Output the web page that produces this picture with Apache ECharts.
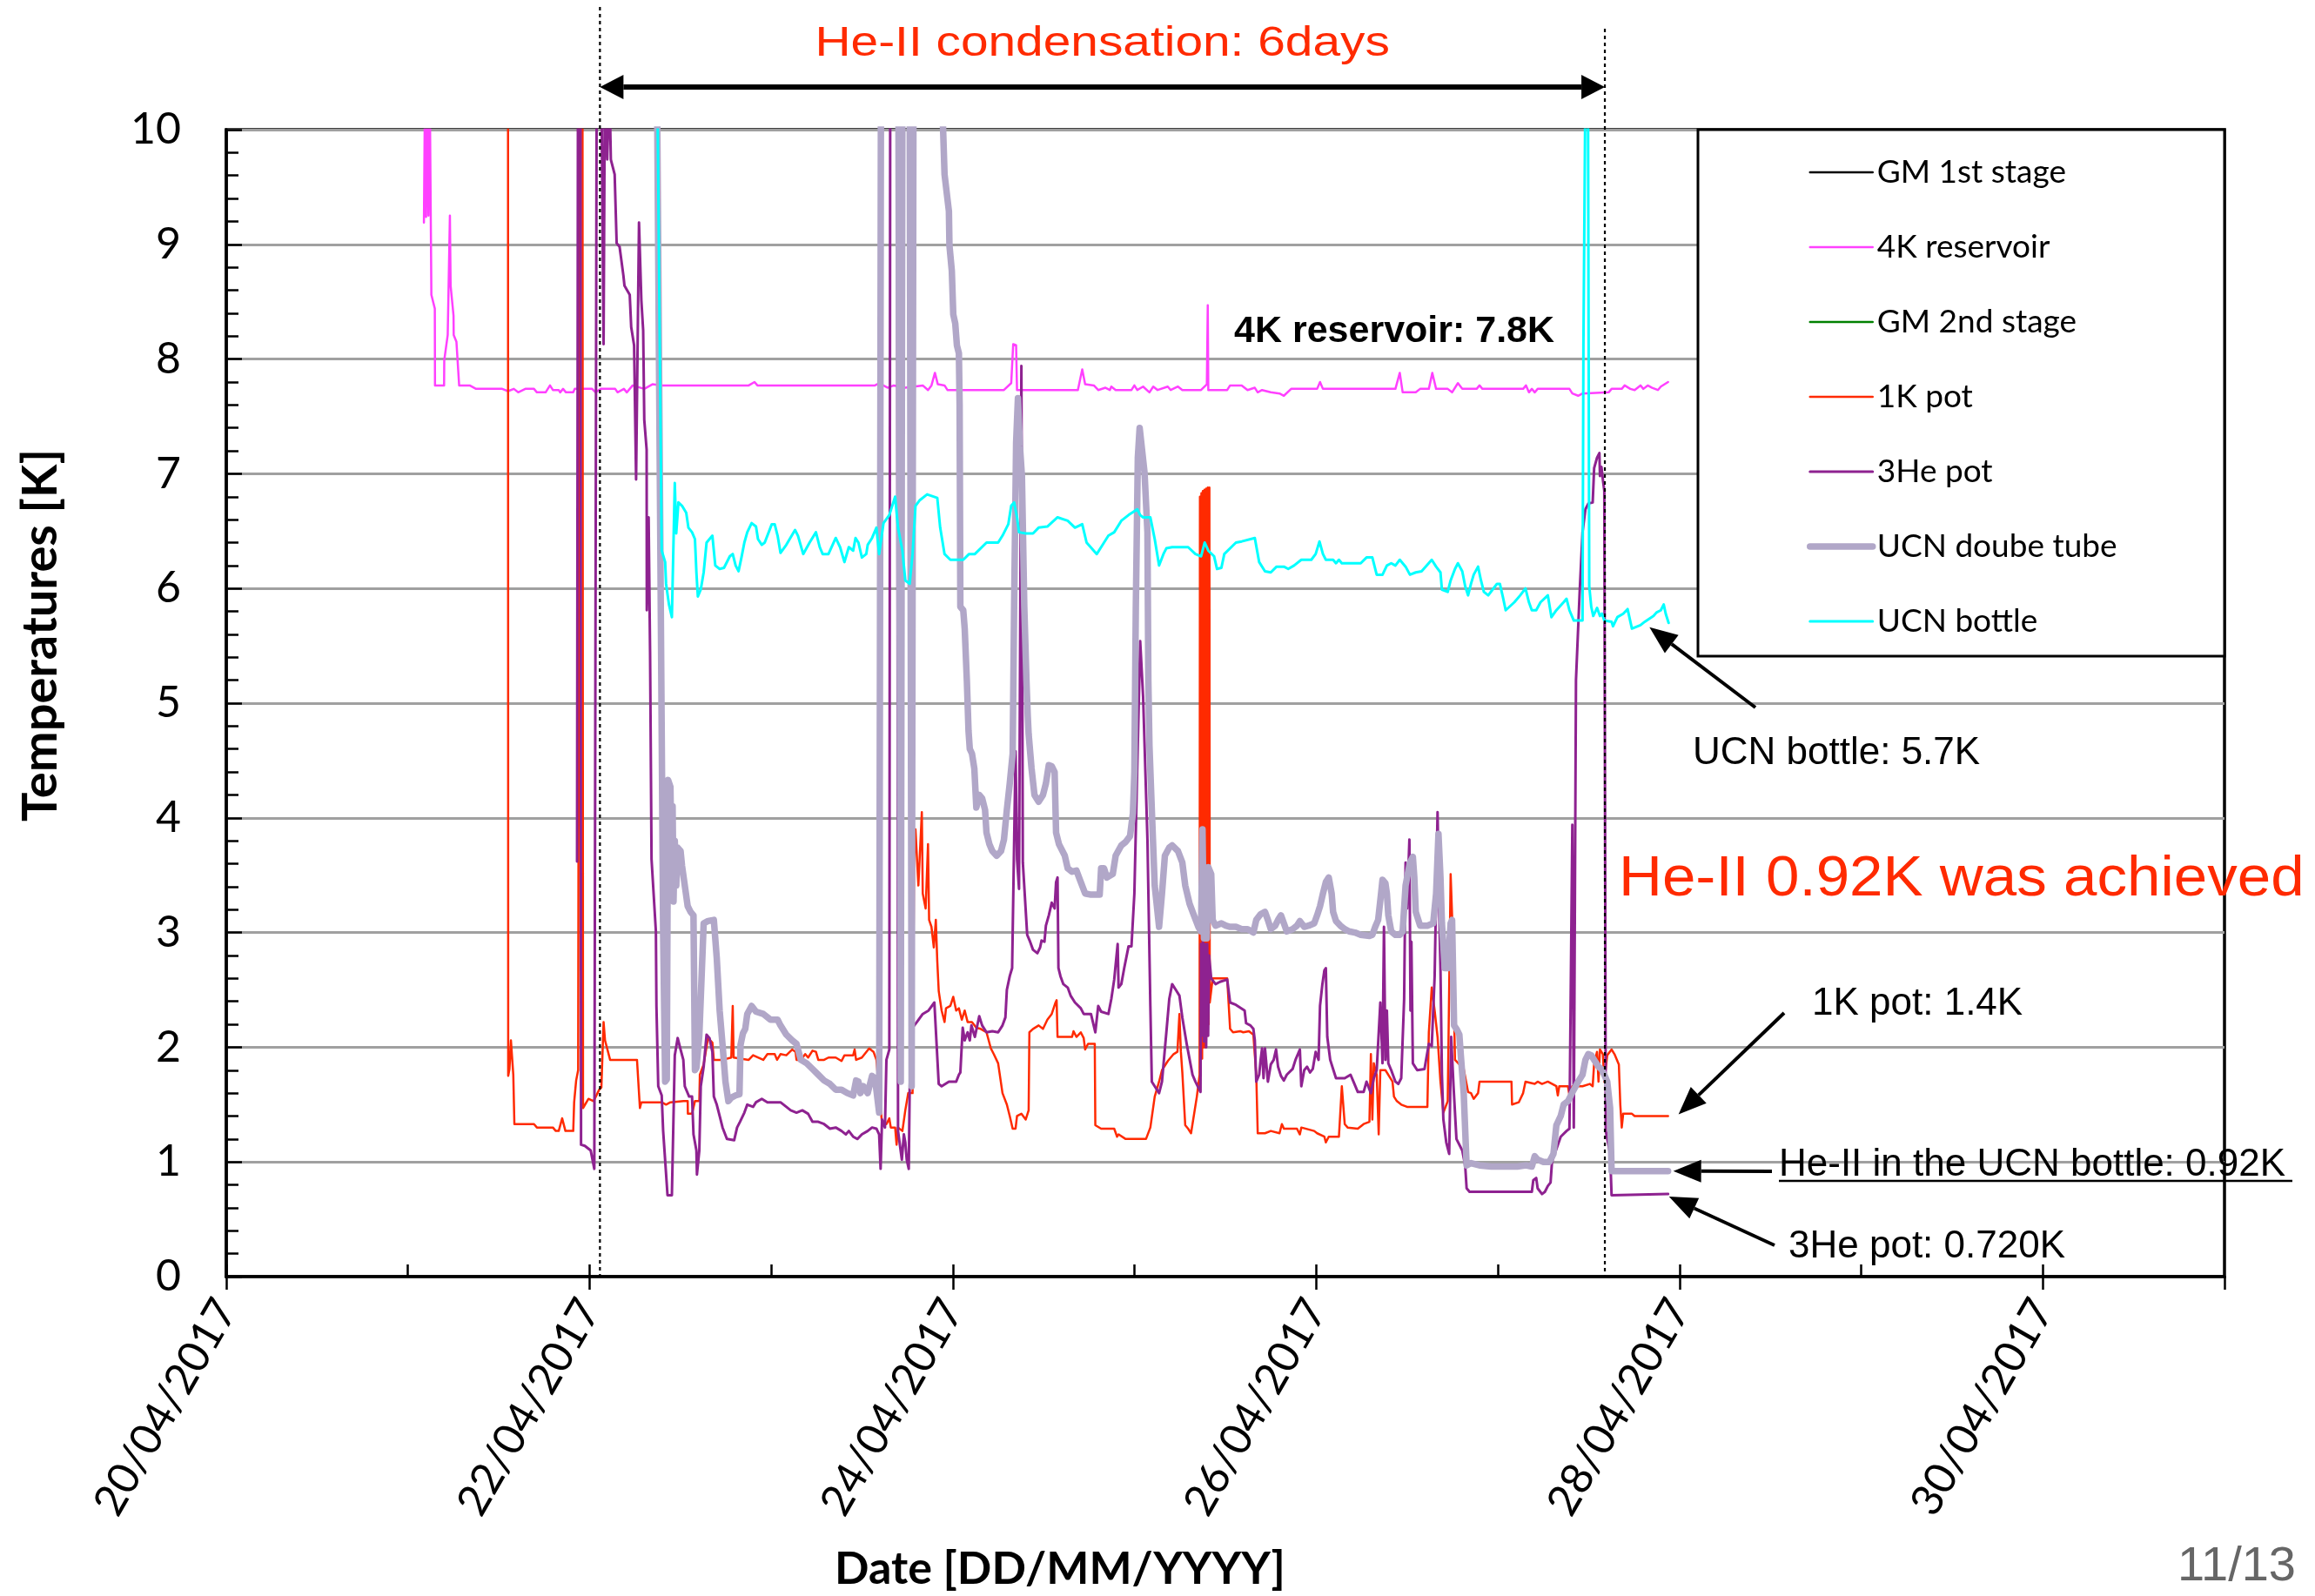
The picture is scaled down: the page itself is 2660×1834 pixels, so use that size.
<!DOCTYPE html>
<html>
<head>
<meta charset="utf-8">
<title>He-II condensation — cryostat temperatures</title>
<script src="https://cdn.jsdelivr.net/npm/echarts@6/dist/echarts.min.js"></script>
<style>
  html, body { margin: 0; padding: 0; background: #ffffff; }
  #chart { width: 2660px; height: 1834px; }
</style>
</head>
<body>
<div id="chart"></div>
<script>
// ---- Time base: x values are days elapsed since 20/04/2017 00:00 ----
const START_UTC = Date.UTC(2017, 3, 20);
const xLabelDays = [0, 2, 4, 6, 8, 10];
const condensationStartDay = 2.057;
const condensationEndDay = 7.589;

// ---- Temperature logs, [day, K]; values above 10 K leave the scale ----
const gm1stStage = [];   // no readings inside the 0-10 K range
const gm2ndStage = [];   // no readings inside the 0-10 K range

const reservoir4K = [[1.088,9.19],[1.094,10.4],[1.100,9.24],[1.107,10.4],[1.113,9.25],[1.120,10.4],[1.128,10.4],[1.129,8.56],[1.148,8.44],[1.149,7.77],[1.199,7.77],[1.200,7.99],[1.219,8.21],[1.231,9.25],[1.235,8.64],[1.251,8.38],[1.252,8.21],[1.267,8.15],[1.282,7.77],[1.340,7.77],[1.375,7.74],[1.519,7.74],[1.551,7.72],[1.583,7.74],[1.607,7.71],[1.646,7.74],[1.694,7.74],[1.710,7.71],[1.758,7.71],[1.782,7.77],[1.798,7.73],[1.830,7.73],[1.838,7.71],[1.854,7.74],[1.870,7.71],[1.910,7.71],[1.918,7.74],[2.014,7.74],[2.033,7.71],[2.062,7.74],[2.141,7.74],[2.154,7.71],[2.189,7.74],[2.205,7.71],[2.237,7.77],[2.301,7.74],[2.346,7.78],[2.397,7.77],[2.876,7.77],[2.908,7.80],[2.924,7.77],[3.571,7.77],[3.594,7.79],[3.642,7.75],[3.674,7.77],[3.738,7.75],[3.834,7.77],[3.863,7.73],[3.882,7.77],[3.901,7.88],[3.917,7.78],[3.954,7.77],[3.970,7.73],[4.281,7.73],[4.321,7.79],[4.332,8.13],[4.348,8.12],[4.353,7.73],[4.688,7.73],[4.712,7.91],[4.728,7.78],[4.776,7.77],[4.800,7.73],[4.840,7.75],[4.864,7.73],[4.872,7.76],[4.896,7.73],[4.983,7.73],[4.999,7.77],[5.015,7.73],[5.047,7.76],[5.082,7.71],[5.103,7.76],[5.127,7.73],[5.183,7.76],[5.199,7.73],[5.239,7.76],[5.263,7.73],[5.366,7.73],[5.398,7.78],[5.403,8.47],[5.406,7.73],[5.510,7.73],[5.526,7.77],[5.590,7.77],[5.622,7.73],[5.662,7.75],[5.678,7.71],[5.702,7.73],[5.750,7.71],[5.798,7.70],[5.822,7.68],[5.862,7.74],[6.005,7.74],[6.021,7.80],[6.037,7.74],[6.436,7.74],[6.460,7.88],[6.476,7.71],[6.548,7.71],[6.572,7.74],[6.620,7.74],[6.639,7.88],[6.660,7.74],[6.724,7.74],[6.748,7.71],[6.780,7.79],[6.804,7.74],[6.883,7.74],[6.899,7.77],[6.915,7.74],[7.139,7.74],[7.155,7.77],[7.171,7.71],[7.187,7.74],[7.203,7.71],[7.219,7.74],[7.394,7.74],[7.410,7.70],[7.442,7.68],[7.466,7.70],[7.610,7.71],[7.626,7.74],[7.682,7.74],[7.698,7.77],[7.729,7.74],[7.753,7.73],[7.785,7.77],[7.801,7.74],[7.825,7.77],[7.849,7.75],[7.881,7.73],[7.897,7.76],[7.937,7.8]];

const pot1K = [[1.551,10.4],[1.552,1.75],[1.559,1.81],[1.567,2.06],[1.580,1.76],[1.586,1.33],[1.694,1.33],[1.710,1.30],[1.798,1.30],[1.814,1.27],[1.830,1.27],[1.849,1.38],[1.867,1.27],[1.910,1.27],[1.915,1.52],[1.926,1.71],[1.937,1.80],[1.945,10.4],[1.961,10.4],[1.964,1.47],[1.969,1.47],[1.994,1.55],[2.022,1.53],[2.053,1.63],[2.065,1.65],[2.077,2.22],[2.085,2.06],[2.113,1.89],[2.261,1.89],[2.277,1.47],[2.285,1.52],[2.397,1.52],[2.421,1.50],[2.445,1.52],[2.517,1.53],[2.540,1.53],[2.541,1.42],[2.564,1.42],[2.580,1.53],[2.604,1.53],[2.607,1.76],[2.628,1.85],[2.652,2.08],[2.676,2.04],[2.684,1.89],[2.732,1.89],[2.780,1.91],[2.788,2.36],[2.793,1.91],[2.876,1.89],[2.900,1.93],[2.956,1.89],[2.979,1.94],[3.019,1.94],[3.032,1.89],[3.051,1.94],[3.083,1.93],[3.115,1.98],[3.134,1.96],[3.139,1.89],[3.163,1.89],[3.187,1.94],[3.203,1.91],[3.227,1.97],[3.246,1.96],[3.259,1.89],[3.291,1.89],[3.315,1.91],[3.355,1.91],[3.387,1.88],[3.403,1.93],[3.451,1.93],[3.459,1.98],[3.467,1.89],[3.499,1.91],[3.539,1.99],[3.563,1.96],[3.579,1.89],[3.610,1.33],[3.634,1.33],[3.650,1.38],[3.658,1.30],[3.682,1.30],[3.690,1.15],[3.698,1.30],[3.722,1.27],[3.738,1.45],[3.754,1.60],[3.778,1.60],[3.786,3.61],[3.794,3.90],[3.810,3.41],[3.829,4.05],[3.834,3.34],[3.850,3.21],[3.863,3.77],[3.869,3.11],[3.882,3.05],[3.895,2.87],[3.906,3.11],[3.914,2.75],[3.922,2.49],[3.938,2.32],[3.954,2.22],[3.962,2.34],[3.986,2.36],[4.002,2.44],[4.018,2.32],[4.033,2.34],[4.049,2.24],[4.065,2.32],[4.081,2.22],[4.105,2.22],[4.129,2.17],[4.153,2.16],[4.185,2.13],[4.209,1.99],[4.225,1.94],[4.249,1.86],[4.273,1.60],[4.297,1.50],[4.313,1.40],[4.329,1.29],[4.345,1.29],[4.353,1.40],[4.377,1.42],[4.401,1.37],[4.417,1.45],[4.421,2.13],[4.441,2.16],[4.472,2.19],[4.496,2.16],[4.520,2.24],[4.544,2.29],[4.565,2.39],[4.571,2.41],[4.576,2.09],[4.616,2.09],[4.656,2.09],[4.664,2.14],[4.680,2.09],[4.704,2.13],[4.720,2.08],[4.728,1.98],[4.744,2.03],[4.781,2.03],[4.784,1.32],[4.816,1.29],[4.888,1.29],[4.904,1.22],[4.912,1.24],[4.951,1.20],[5.063,1.20],[5.087,1.30],[5.111,1.57],[5.135,1.70],[5.151,1.80],[5.183,1.88],[5.215,1.94],[5.236,1.96],[5.247,2.29],[5.255,1.96],[5.263,1.78],[5.279,1.32],[5.295,1.29],[5.311,1.25],[5.343,1.57],[5.358,1.76],[5.360,6.80],[5.364,1.90],[5.368,6.83],[5.372,1.90],[5.376,6.85],[5.381,2.00],[5.385,6.86],[5.390,2.00],[5.394,6.87],[5.399,2.10],[5.403,6.88],[5.408,2.20],[5.412,6.88],[5.414,2.39],[5.430,2.60],[5.470,2.60],[5.510,2.60],[5.526,2.16],[5.542,2.13],[5.582,2.14],[5.598,2.13],[5.630,2.14],[5.654,2.11],[5.670,1.76],[5.678,1.25],[5.718,1.25],[5.750,1.27],[5.798,1.25],[5.811,1.33],[5.822,1.29],[5.894,1.29],[5.910,1.24],[5.918,1.30],[5.989,1.27],[6.005,1.25],[6.045,1.22],[6.053,1.17],[6.069,1.22],[6.125,1.22],[6.141,1.66],[6.157,1.33],[6.173,1.30],[6.229,1.29],[6.261,1.33],[6.293,1.35],[6.301,1.94],[6.309,1.37],[6.317,1.86],[6.333,1.76],[6.344,1.24],[6.353,1.80],[6.381,1.80],[6.420,1.70],[6.428,1.57],[6.444,1.53],[6.468,1.50],[6.500,1.48],[6.612,1.48],[6.620,2.13],[6.636,2.52],[6.652,2.32],[6.668,2.09],[6.684,1.70],[6.700,1.43],[6.724,1.53],[6.740,3.51],[6.748,3.15],[6.764,1.89],[6.812,1.81],[6.836,1.61],[6.852,1.60],[6.867,1.55],[6.891,1.60],[6.899,1.70],[7.075,1.70],[7.078,1.50],[7.115,1.52],[7.139,1.60],[7.152,1.70],[7.203,1.68],[7.219,1.70],[7.243,1.68],[7.275,1.70],[7.322,1.66],[7.330,1.58],[7.338,1.66],[7.386,1.66],[7.394,1.58],[7.410,1.66],[7.466,1.66],[7.506,1.68],[7.522,1.66],[7.530,1.86],[7.546,1.96],[7.554,1.70],[7.562,1.98],[7.578,1.94],[7.586,1.70],[7.602,1.93],[7.626,1.98],[7.642,1.94],[7.666,1.85],[7.674,1.50],[7.682,1.30],[7.690,1.42],[7.738,1.42],[7.753,1.40],[7.937,1.4]];

const pot3He = [[1.931,3.62],[1.936,10.4],[1.950,10.4],[1.953,1.15],[1.974,1.14],[2.006,1.10],[2.026,0.94],[2.039,10.4],[2.065,10.4],[2.077,8.13],[2.084,10.4],[2.097,9.74],[2.109,10.4],[2.117,9.74],[2.138,9.61],[2.149,9.01],[2.165,8.98],[2.186,8.73],[2.192,8.64],[2.221,8.56],[2.229,8.28],[2.245,8.12],[2.256,6.95],[2.272,9.19],[2.285,8.51],[2.295,8.25],[2.301,7.47],[2.314,7.21],[2.315,5.81],[2.325,6.62],[2.333,5.45],[2.341,3.64],[2.365,3.01],[2.368,2.36],[2.378,1.66],[2.397,1.58],[2.405,1.27],[2.429,0.71],[2.453,0.71],[2.469,1.93],[2.485,2.08],[2.501,1.98],[2.516,1.89],[2.524,1.66],[2.548,1.57],[2.564,1.57],[2.572,1.24],[2.588,1.10],[2.591,0.89],[2.604,1.10],[2.612,1.66],[2.628,1.83],[2.644,2.11],[2.660,2.08],[2.676,1.96],[2.684,1.57],[2.700,1.50],[2.716,1.40],[2.732,1.30],[2.756,1.20],[2.796,1.19],[2.812,1.30],[2.828,1.35],[2.852,1.43],[2.868,1.50],[2.900,1.48],[2.916,1.52],[2.948,1.55],[2.979,1.52],[3.051,1.52],[3.083,1.48],[3.107,1.45],[3.139,1.43],[3.171,1.45],[3.203,1.42],[3.227,1.35],[3.259,1.35],[3.291,1.33],[3.323,1.29],[3.355,1.30],[3.387,1.27],[3.411,1.24],[3.427,1.27],[3.451,1.22],[3.475,1.20],[3.499,1.24],[3.531,1.27],[3.555,1.30],[3.579,1.29],[3.594,1.24],[3.602,0.94],[3.610,1.37],[3.626,1.30],[3.634,1.89],[3.650,1.98],[3.655,10.4],[3.693,10.4],[3.698,1.27],[3.719,1.02],[3.730,1.24],[3.738,1.17],[3.746,1.02],[3.757,0.94],[3.762,1.63],[3.773,2.16],[3.802,2.22],[3.834,2.29],[3.866,2.32],[3.898,2.39],[3.906,2.39],[3.922,1.68],[3.938,1.66],[3.978,1.70],[4.018,1.70],[4.033,1.76],[4.041,1.78],[4.054,2.17],[4.065,2.06],[4.081,2.13],[4.093,2.06],[4.102,2.19],[4.121,2.09],[4.145,2.27],[4.161,2.19],[4.185,2.13],[4.217,2.14],[4.249,2.13],[4.273,2.19],[4.289,2.26],[4.297,2.50],[4.313,2.62],[4.326,2.69],[4.345,4.58],[4.353,3.64],[4.364,3.38],[4.377,7.94],[4.385,3.61],[4.409,2.98],[4.425,2.92],[4.441,2.85],[4.465,2.82],[4.480,2.87],[4.488,2.93],[4.504,2.92],[4.512,3.06],[4.528,3.15],[4.544,3.26],[4.560,3.21],[4.568,3.44],[4.576,3.48],[4.581,2.69],[4.592,2.62],[4.608,2.55],[4.632,2.52],[4.648,2.45],[4.672,2.39],[4.704,2.34],[4.720,2.29],[4.760,2.29],[4.784,2.13],[4.800,2.36],[4.816,2.31],[4.856,2.29],[4.872,2.42],[4.888,2.59],[4.907,2.90],[4.912,2.52],[4.927,2.55],[4.943,2.69],[4.967,2.88],[4.983,2.88],[4.999,3.34],[5.031,5.54],[5.047,5.06],[5.071,3.81],[5.087,2.36],[5.095,1.70],[5.111,1.66],[5.135,1.60],[5.151,1.70],[5.175,2.13],[5.191,2.42],[5.207,2.55],[5.231,2.49],[5.247,2.45],[5.263,2.26],[5.287,2.03],[5.319,1.76],[5.335,1.70],[5.363,1.61],[5.366,2.90],[5.371,2.10],[5.376,2.95],[5.382,2.05],[5.388,2.90],[5.394,2.00],[5.400,2.90],[5.405,2.10],[5.410,2.80],[5.422,2.60],[5.446,2.55],[5.470,2.57],[5.510,2.59],[5.526,2.39],[5.558,2.37],[5.606,2.32],[5.614,2.21],[5.638,2.19],[5.654,2.16],[5.662,2.06],[5.670,1.70],[5.686,1.76],[5.694,1.89],[5.702,1.99],[5.710,1.73],[5.718,1.99],[5.734,1.70],[5.750,1.85],[5.766,1.89],[5.779,1.98],[5.790,1.83],[5.806,1.75],[5.822,1.71],[5.838,1.76],[5.870,1.81],[5.886,1.89],[5.910,1.98],[5.918,1.66],[5.934,1.80],[5.950,1.83],[5.966,1.78],[5.981,1.81],[5.997,1.96],[6.013,1.89],[6.021,2.36],[6.034,2.55],[6.045,2.67],[6.053,2.69],[6.061,2.09],[6.077,1.89],[6.093,1.81],[6.109,1.73],[6.157,1.73],[6.189,1.76],[6.205,1.70],[6.229,1.61],[6.261,1.61],[6.277,1.70],[6.301,1.60],[6.317,1.73],[6.333,1.80],[6.353,2.39],[6.365,1.86],[6.373,3.05],[6.381,1.89],[6.389,2.32],[6.397,1.86],[6.413,1.80],[6.436,1.70],[6.452,1.68],[6.468,1.73],[6.484,2.42],[6.492,3.61],[6.500,3.21],[6.513,3.81],[6.519,2.32],[6.524,2.92],[6.532,1.86],[6.556,1.80],[6.596,1.81],[6.620,2.03],[6.636,2.01],[6.652,2.62],[6.668,4.05],[6.679,3.05],[6.684,2.69],[6.692,1.76],[6.700,1.37],[6.716,1.17],[6.732,1.07],[6.743,2.09],[6.756,1.66],[6.772,1.20],[6.804,1.10],[6.820,0.97],[6.828,0.77],[6.844,0.74],[7.187,0.74],[7.195,0.84],[7.211,0.86],[7.219,0.77],[7.243,0.72],[7.259,0.74],[7.275,0.79],[7.290,0.82],[7.298,1.00],[7.306,1.04],[7.346,1.22],[7.378,1.27],[7.394,1.29],[7.410,3.94],[7.418,1.30],[7.423,1.30],[7.430,5.20],[7.450,5.96],[7.466,6.49],[7.482,6.69],[7.498,6.74],[7.522,6.75],[7.530,7.05],[7.546,7.14],[7.559,7.18],[7.562,6.98],[7.570,7.06],[7.578,6.95],[7.586,6.85],[7.594,1.27],[7.618,1.07],[7.626,0.71],[7.937,0.72]];

const ucnDoubleTube = [[2.371,10.4],[2.405,3.00],[2.416,1.70],[2.425,1.72],[2.432,4.33],[2.445,4.27],[2.453,3.41],[2.457,4.10],[2.462,3.27],[2.469,3.80],[2.477,3.41],[2.485,3.74],[2.501,3.71],[2.509,3.58],[2.524,3.41],[2.540,3.23],[2.556,3.18],[2.572,3.15],[2.580,1.80],[2.588,1.82],[2.604,2.10],[2.628,3.08],[2.652,3.10],[2.684,3.11],[2.700,2.78],[2.716,2.32],[2.732,2.02],[2.748,1.70],[2.764,1.53],[2.780,1.56],[2.804,1.58],[2.825,1.59],[2.831,2.02],[2.844,2.12],[2.857,2.16],[2.868,2.29],[2.892,2.36],[2.916,2.31],[2.956,2.29],[2.996,2.24],[3.035,2.24],[3.051,2.19],[3.083,2.11],[3.115,2.06],[3.139,2.03],[3.163,1.89],[3.195,1.86],[3.227,1.81],[3.259,1.76],[3.291,1.71],[3.323,1.68],[3.355,1.63],[3.387,1.63],[3.419,1.60],[3.451,1.58],[3.467,1.71],[3.480,1.70],[3.491,1.60],[3.507,1.66],[3.531,1.60],[3.555,1.75],[3.571,1.73],[3.594,1.43],[3.604,10.4],[3.700,10.4],[3.713,1.70],[3.722,10.4],[3.762,10.4],[3.773,1.66],[3.783,10.4],[3.938,10.4],[3.954,9.61],[3.978,9.29],[3.981,8.99],[3.994,8.77],[4.002,8.39],[4.013,8.31],[4.022,8.12],[4.033,8.05],[4.037,7.60],[4.041,5.84],[4.057,5.81],[4.065,5.65],[4.077,5.19],[4.086,4.76],[4.093,4.60],[4.105,4.56],[4.118,4.43],[4.129,4.09],[4.145,4.20],[4.161,4.17],[4.177,4.07],[4.185,3.87],[4.201,3.77],[4.217,3.71],[4.241,3.67],[4.265,3.71],[4.281,3.81],[4.297,4.07],[4.313,4.30],[4.329,4.56],[4.337,5.84],[4.348,7.27],[4.358,7.66],[4.369,7.24],[4.380,6.98],[4.393,5.84],[4.405,5.19],[4.412,4.89],[4.417,4.73],[4.433,4.43],[4.449,4.20],[4.472,4.14],[4.496,4.20],[4.512,4.30],[4.528,4.46],[4.544,4.45],[4.560,4.40],[4.568,3.87],[4.584,3.77],[4.616,3.67],[4.632,3.56],[4.656,3.53],[4.680,3.54],[4.704,3.44],[4.728,3.34],[4.760,3.33],[4.808,3.33],[4.816,3.56],[4.832,3.56],[4.848,3.48],[4.880,3.51],[4.896,3.67],[4.927,3.76],[4.951,3.79],[4.975,3.84],[4.991,4.04],[4.999,4.40],[5.007,5.84],[5.018,7.14],[5.028,7.40],[5.039,7.24],[5.055,7.01],[5.071,6.49],[5.076,5.19],[5.082,4.63],[5.095,4.07],[5.111,3.41],[5.135,3.05],[5.151,3.34],[5.167,3.67],[5.191,3.74],[5.207,3.76],[5.239,3.71],[5.263,3.61],[5.279,3.41],[5.303,3.25],[5.327,3.15],[5.351,3.05],[5.366,3.01],[5.374,3.90],[5.382,2.95],[5.398,2.95],[5.406,3.57],[5.422,3.51],[5.430,3.11],[5.446,3.06],[5.478,3.08],[5.502,3.06],[5.526,3.05],[5.558,3.05],[5.590,3.03],[5.622,3.03],[5.654,3.00],[5.670,3.11],[5.694,3.16],[5.718,3.18],[5.734,3.11],[5.750,3.03],[5.774,3.06],[5.790,3.11],[5.806,3.15],[5.822,3.08],[5.838,3.01],[5.870,3.03],[5.894,3.06],[5.910,3.10],[5.934,3.05],[5.958,3.06],[5.989,3.08],[6.005,3.15],[6.021,3.23],[6.037,3.34],[6.053,3.44],[6.069,3.48],[6.085,3.34],[6.093,3.18],[6.109,3.10],[6.133,3.06],[6.157,3.03],[6.181,3.01],[6.213,3.00],[6.245,2.98],[6.293,2.97],[6.309,2.98],[6.325,3.05],[6.341,3.11],[6.357,3.34],[6.365,3.46],[6.381,3.43],[6.389,3.34],[6.397,3.15],[6.413,3.01],[6.436,2.98],[6.460,2.98],[6.476,3.01],[6.492,3.41],[6.516,3.61],[6.532,3.66],[6.540,3.48],[6.548,3.18],[6.572,3.06],[6.612,3.06],[6.644,3.08],[6.660,3.34],[6.673,3.86],[6.684,3.48],[6.692,3.08],[6.708,2.69],[6.724,2.69],[6.740,3.08],[6.748,3.11],[6.759,2.19],[6.772,2.16],[6.788,2.11],[6.796,1.93],[6.812,1.60],[6.828,0.97],[6.852,0.99],[6.899,0.97],[6.963,0.96],[7.107,0.96],[7.155,0.97],[7.187,0.96],[7.203,1.05],[7.219,1.02],[7.251,1.00],[7.283,1.00],[7.306,1.07],[7.322,1.32],[7.346,1.40],[7.362,1.50],[7.386,1.53],[7.418,1.63],[7.442,1.70],[7.466,1.76],[7.482,1.89],[7.498,1.94],[7.514,1.93],[7.530,1.89],[7.554,1.83],[7.570,1.81],[7.586,1.76],[7.602,1.70],[7.618,1.47],[7.626,0.92],[7.937,0.92]];

const ucnBottle = [[2.373,10.4],[2.397,6.33],[2.416,6.23],[2.421,6.04],[2.437,5.86],[2.453,5.75],[2.469,6.92],[2.477,6.48],[2.489,6.75],[2.509,6.72],[2.532,6.66],[2.544,6.53],[2.564,6.49],[2.580,6.43],[2.588,6.14],[2.596,5.93],[2.612,5.99],[2.628,6.14],[2.644,6.40],[2.676,6.46],[2.692,6.20],[2.716,6.17],[2.740,6.18],[2.772,6.28],[2.788,6.30],[2.804,6.20],[2.820,6.15],[2.836,6.27],[2.852,6.40],[2.868,6.49],[2.892,6.57],[2.916,6.54],[2.927,6.43],[2.948,6.38],[2.964,6.40],[3.003,6.56],[3.019,6.56],[3.035,6.46],[3.051,6.31],[3.083,6.38],[3.131,6.51],[3.147,6.46],[3.176,6.30],[3.211,6.40],[3.246,6.49],[3.267,6.36],[3.283,6.30],[3.315,6.30],[3.355,6.44],[3.379,6.36],[3.403,6.23],[3.427,6.36],[3.451,6.33],[3.464,6.44],[3.480,6.40],[3.499,6.27],[3.523,6.30],[3.531,6.38],[3.555,6.44],[3.579,6.53],[3.594,6.30],[3.618,6.57],[3.650,6.64],[3.682,6.80],[3.698,6.53],[3.722,6.33],[3.738,6.07],[3.762,6.04],[3.778,6.30],[3.794,6.72],[3.818,6.77],[3.858,6.82],[3.914,6.79],[3.930,6.53],[3.954,6.30],[3.986,6.25],[4.057,6.25],[4.089,6.30],[4.121,6.30],[4.185,6.40],[4.249,6.40],[4.273,6.46],[4.305,6.56],[4.321,6.72],[4.337,6.75],[4.353,6.62],[4.364,6.49],[4.401,6.48],[4.441,6.48],[4.472,6.53],[4.520,6.54],[4.576,6.62],[4.632,6.59],[4.672,6.53],[4.712,6.56],[4.736,6.40],[4.792,6.30],[4.816,6.36],[4.856,6.46],[4.888,6.49],[4.927,6.59],[4.967,6.64],[5.015,6.69],[5.031,6.64],[5.047,6.62],[5.087,6.62],[5.111,6.43],[5.135,6.20],[5.159,6.30],[5.175,6.35],[5.207,6.36],[5.295,6.36],[5.335,6.30],[5.366,6.28],[5.386,6.40],[5.406,6.33],[5.438,6.28],[5.454,6.17],[5.478,6.18],[5.494,6.30],[5.558,6.40],[5.590,6.41],[5.662,6.44],[5.686,6.23],[5.718,6.15],[5.750,6.14],[5.782,6.19],[5.822,6.19],[5.846,6.17],[5.878,6.20],[5.918,6.25],[5.973,6.25],[5.997,6.30],[6.018,6.41],[6.037,6.30],[6.053,6.25],[6.093,6.25],[6.109,6.22],[6.125,6.25],[6.141,6.22],[6.245,6.22],[6.277,6.27],[6.309,6.27],[6.333,6.12],[6.365,6.12],[6.389,6.20],[6.413,6.22],[6.436,6.20],[6.460,6.25],[6.492,6.19],[6.516,6.12],[6.548,6.14],[6.580,6.15],[6.636,6.25],[6.660,6.19],[6.684,6.14],[6.692,5.99],[6.724,5.97],[6.740,6.07],[6.764,6.17],[6.780,6.22],[6.804,6.15],[6.820,6.02],[6.836,5.94],[6.852,6.04],[6.867,6.12],[6.891,6.19],[6.907,6.07],[6.923,5.97],[6.947,5.94],[6.971,5.99],[6.995,6.04],[7.011,6.04],[7.027,5.93],[7.043,5.81],[7.091,5.88],[7.123,5.94],[7.152,6.00],[7.171,5.88],[7.187,5.81],[7.211,5.81],[7.235,5.88],[7.275,5.94],[7.295,5.75],[7.322,5.81],[7.362,5.88],[7.378,5.91],[7.394,5.81],[7.418,5.72],[7.466,5.72],[7.471,8.12],[7.482,10.4],[7.496,10.4],[7.503,6.02],[7.514,5.84],[7.525,5.76],[7.546,5.83],[7.562,5.76],[7.573,5.78],[7.586,5.72],[7.626,5.71],[7.634,5.67],[7.658,5.75],[7.690,5.78],[7.714,5.82],[7.738,5.65],[7.785,5.68],[7.809,5.71],[7.857,5.76],[7.873,5.79],[7.897,5.81],[7.913,5.86],[7.924,5.78],[7.940,5.7]];

// ---- Series styling, in legend order ----
const seriesDefs = [
  { name: 'GM 1st stage',   data: gm1stStage,    color: '#000000', width: 2.5 },
  { name: '4K reservoir',   data: reservoir4K,   color: '#ff40ff', width: 2.5 },
  { name: 'GM 2nd stage',   data: gm2ndStage,    color: '#008000', width: 2.5 },
  { name: '1K pot',         data: pot1K,         color: '#ff2a00', width: 2.5 },
  { name: '3He pot',        data: pot3He,        color: '#8e2290', width: 3 },
  { name: 'UCN doube tube', data: ucnDoubleTube, color: '#b1a7c8', width: 7.5 },
  { name: 'UCN bottle',     data: ucnBottle,     color: '#00ffff', width: 3 }
];

const LABEL_FONT = 'Lato, "Open Sans", sans-serif';
const NOTE_FONT = '"Liberation Sans", Arial, sans-serif';

function pad2(n) { return (n < 10 ? '0' : '') + n; }
function dayToDate(v) {
  const d = new Date(START_UTC + Math.round(v * 86400000));
  return pad2(d.getUTCDate()) + '/' + pad2(d.getUTCMonth() + 1) + '/' + d.getUTCFullYear();
}

const chart = echarts.init(document.getElementById('chart'), null, { renderer: 'canvas' });

chart.setOption({
  animation: false,
  backgroundColor: '#ffffff',
  grid: {
    left: 260, right: 104, top: 149, bottom: 367,
    containLabel: false, outerBoundsMode: 'none',
    show: true, borderColor: '#000000', borderWidth: 3.5, backgroundColor: 'transparent'
  },
  legend: {
    orient: 'vertical',
    left: 2071, top: 173,
    itemWidth: 72, itemHeight: 14, itemGap: 46,
    selectedMode: false,
    itemStyle: { opacity: 0 },
    lineStyle: { width: 'inherit' },
    textStyle: { fontFamily: LABEL_FONT, fontSize: 37, color: '#000000', lineHeight: 40 },
    data: seriesDefs.map(s => s.name),
    z: 6
  },
  xAxis: [
    {
      type: 'value', min: 0, max: 11, interval: 1,
      name: 'Date [DD/MM/YYYY]', nameLocation: 'middle', nameGap: 310,
      nameTextStyle: { fontFamily: LABEL_FONT, fontSize: 52, fontWeight: 'bold', color: '#000000',
                       padding: [0, 380, 0, 0] },
      axisLine: { show: true, lineStyle: { color: '#000000', width: 3.5 } },
      axisTick: { show: true, inside: true, length: 14, lineStyle: { color: '#000000', width: 2.5 } },
      axisLabel: {
        rotate: 60, margin: 30, fontFamily: LABEL_FONT, fontSize: 50, color: '#000000',
        showMinLabel: true, showMaxLabel: false,
        formatter: v => (xLabelDays.indexOf(Math.round(v)) >= 0 && Math.abs(v - Math.round(v)) < 1e-6) ? dayToDate(v) : ''
      },
      splitLine: { show: false }
    },
    {
      type: 'value', min: 0, max: 11, interval: 2, position: 'bottom', offset: 0,
      axisLine: { show: false },
      axisTick: { show: true, inside: false, length: 15, lineStyle: { color: '#000000', width: 2.5 } },
      axisLabel: { show: false },
      splitLine: { show: false }
    }
  ],
  yAxis: {
    type: 'value', min: 0, max: 10, interval: 1,
    name: 'Temperatures [K]', nameLocation: 'middle', nameGap: 185,
    nameTextStyle: { fontFamily: LABEL_FONT, fontSize: 56, fontWeight: 'bold', color: '#000000',
                     padding: [0, 0, 0, 156] },
    axisLine: { show: true, lineStyle: { color: '#000000', width: 3.5 } },
    axisTick: { show: true, inside: true, length: 18, lineStyle: { color: '#000000', width: 2.5 } },
    minorTick: { show: true, splitNumber: 5, length: 14, lineStyle: { color: '#000000', width: 2.5 } },
    axisLabel: { margin: 52, fontFamily: LABEL_FONT, fontSize: 50, color: '#000000' },
    splitLine: { show: true, lineStyle: { color: '#a0a0a0', width: 3 } }
  },
  series: seriesDefs.map((s, i) => ({
    name: s.name,
    type: 'line',
    data: s.data,
    symbol: 'none',
    clip: true,
    z: 2 + i * 0.01,
    itemStyle: { color: s.color },
    lineStyle: { color: s.color, width: s.width, join: 'round', cap: 'round' },
    emphasis: { disabled: true }
  }))
});

// ---- Annotation layer (pixel positions come from the chart's own scales) ----
function px(day, k) { return chart.convertToPixel({ xAxisIndex: 0, yAxisIndex: 0 }, [day, k]); }

function arrowHead(tipX, tipY, fromX, fromY, len, half) {
  const a = Math.atan2(tipY - fromY, tipX - fromX);
  const bx = tipX - len * Math.cos(a), by = tipY - len * Math.sin(a);
  const nx = -Math.sin(a) * half, ny = Math.cos(a) * half;
  return {
    base: [bx, by],
    el: { type: 'polygon', z: 20, silent: true,
          shape: { points: [[tipX, tipY], [bx + nx, by + ny], [bx - nx, by - ny]] },
          style: { fill: '#000000' } }
  };
}
function arrow(tailX, tailY, tipX, tipY, width, len, half) {
  const h = arrowHead(tipX, tipY, tailX, tailY, len, half);
  return [
    { type: 'line', z: 20, silent: true,
      shape: { x1: tailX, y1: tailY, x2: h.base[0], y2: h.base[1] },
      style: { stroke: '#000000', lineWidth: width } },
    h.el
  ];
}
function note(text, x, y, opts) {
  return Object.assign({
    type: 'text', z: 20, silent: true, x: x, y: y,
    style: Object.assign({ text: text, fill: '#000000', font: '44px ' + NOTE_FONT,
                           align: 'left', verticalAlign: 'middle' }, opts && opts.style || {})
  }, opts && opts.el || {});
}

function lastPoint(arr) { return arr[arr.length - 1]; }

const plotBottom = px(0, 0)[1];
const xStart = px(condensationStartDay, 0)[0];
const xEnd = px(condensationEndDay, 0)[0];
const bottleEnd = px(...lastPoint(ucnBottle));
const pot1KEnd = px(...lastPoint(pot1K));
const tubeEnd = px(...lastPoint(ucnDoubleTube));
const pot3HeEnd = px(...lastPoint(pot3He));

const g = [];
// legend frame
g.push({ type: 'rect', z: 5, silent: true,
         shape: { x: 1951, y: 149, width: 605, height: 605 },
         style: { fill: '#ffffff', stroke: '#000000', lineWidth: 3 } });

// condensation period markers
g.push({ type: 'line', z: 20, silent: true, shape: { x1: xStart, y1: 8, x2: xStart, y2: plotBottom },
         style: { stroke: '#000000', lineWidth: 2.2, lineDash: [4, 4] } });
g.push({ type: 'line', z: 20, silent: true, shape: { x1: xEnd, y1: 33, x2: xEnd, y2: plotBottom },
         style: { stroke: '#000000', lineWidth: 2.2, lineDash: [4, 4] } });
const hL = arrowHead(xStart, 100, xEnd, 100, 27, 14);
const hR = arrowHead(xEnd, 100, xStart, 100, 27, 14);
g.push({ type: 'line', z: 20, silent: true, shape: { x1: hL.base[0], y1: 100, x2: hR.base[0], y2: 100 },
         style: { stroke: '#000000', lineWidth: 6 } });
g.push(hL.el, hR.el);
g.push(note('He-II condensation: 6days', (xStart + xEnd) / 2, 50, {
  style: { fill: '#ff2a00', font: '49px ' + NOTE_FONT, align: 'center' },
  el: { scaleX: 1.16, originX: 0, originY: 0 }
}));

// readings called out at the end of the run
g.push(note('4K reservoir: 7.8K', 1418, 381, { style: { font: 'bold 43px ' + NOTE_FONT } }));
g.push(note('UCN bottle: 5.7K', 1945, 866));
g.push(...arrow(2017, 813, bottleEnd[0] - 22, bottleEnd[1] + 5, 4, 32, 13));
g.push(note('He-II 0.92K was achieved', 1860, 1011, {
  style: { fill: '#ff2a00', font: '64px ' + NOTE_FONT },
  el: { scaleX: 1.08, originX: 0, originY: 0 }
}));
g.push(note('1K pot: 1.4K', 2082, 1154));
g.push(...arrow(2050, 1164, pot1KEnd[0] + 12, pot1KEnd[1] - 2, 4, 32, 13));
g.push(note('He-II in the UCN bottle: 0.92K', 2044, 1339));
g.push({ type: 'line', z: 20, silent: true, shape: { x1: 2044, y1: 1357, x2: 2634, y2: 1357 },
         style: { stroke: '#000000', lineWidth: 2.5 } });
g.push(...arrow(2036, 1346, tubeEnd[0] + 6, tubeEnd[1], 4, 32, 13));
g.push(note('3He pot: 0.720K', 2055, 1433));
g.push(...arrow(2039, 1431, pot3HeEnd[0] + 1, pot3HeEnd[1] + 3, 4, 32, 13));

// slide number
g.push(note('11/13', 2502, 1801, { style: { fill: '#666666', font: '56px ' + NOTE_FONT } }));

chart.setOption({ graphic: { elements: g } });
</script>
</body>
</html>
